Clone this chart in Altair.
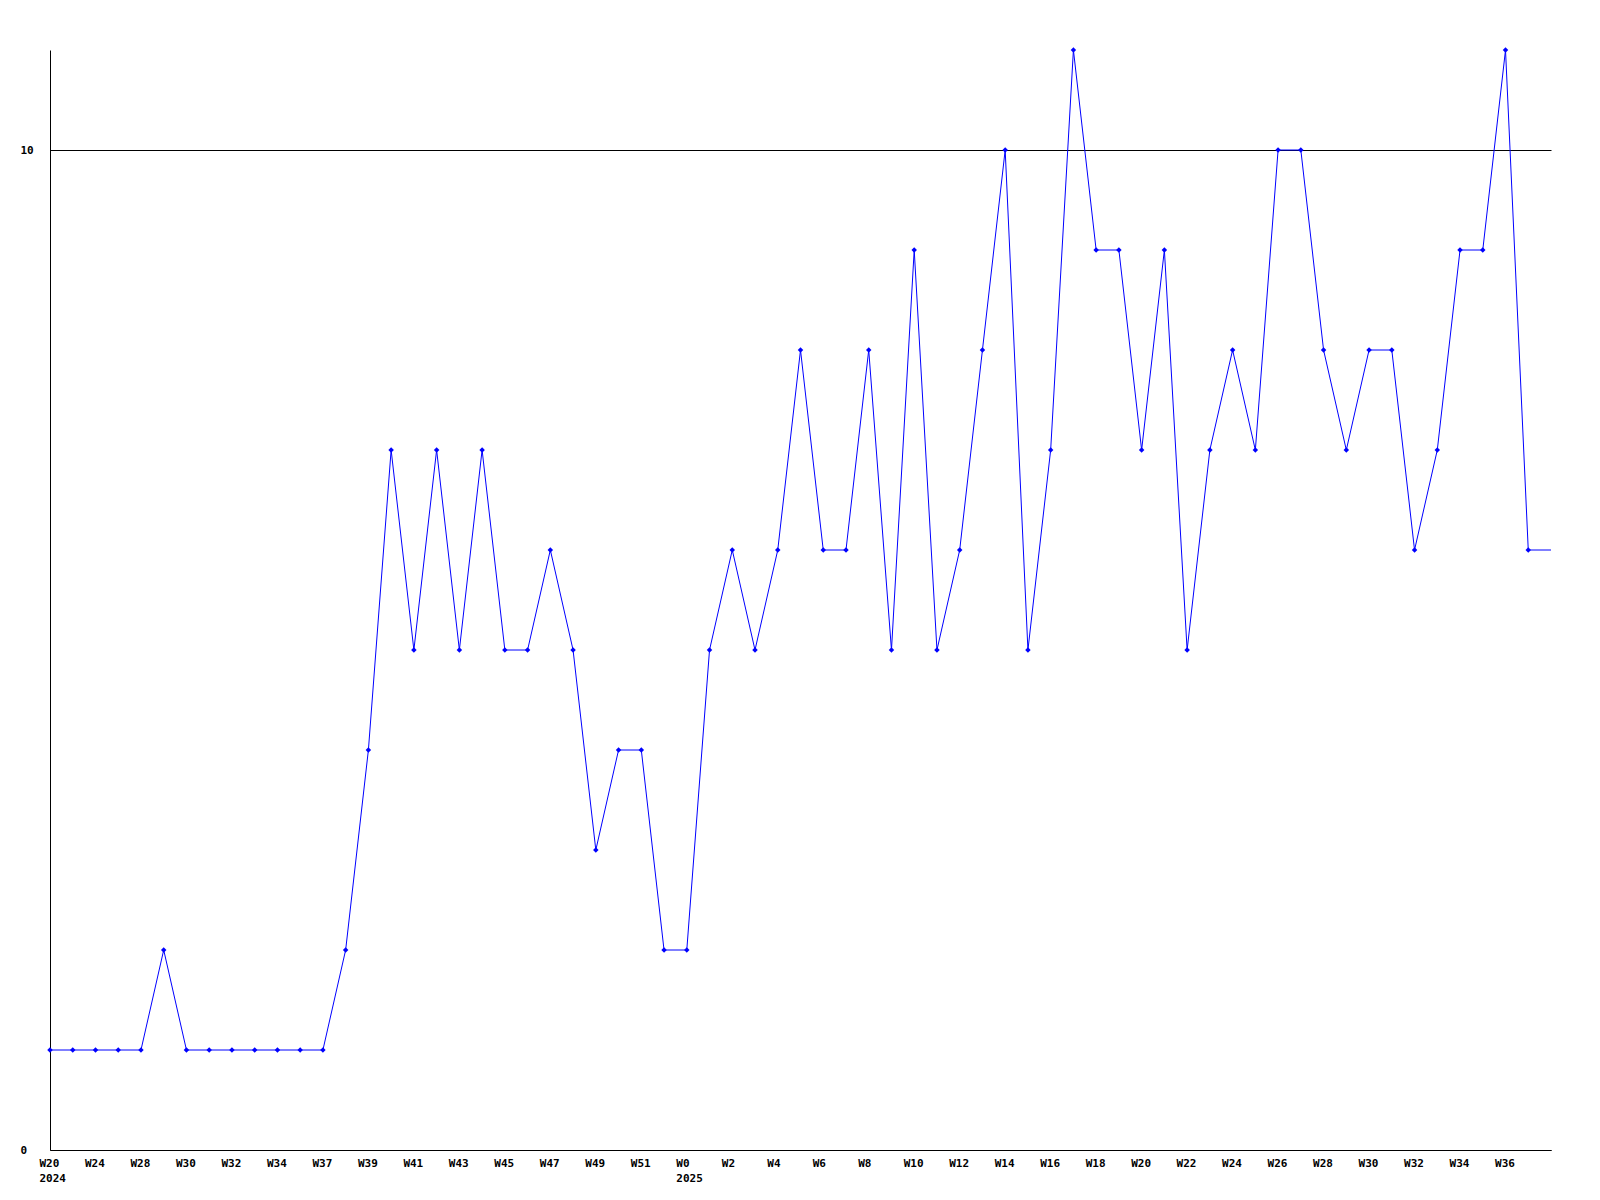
import json
import altair as alt
import pandas as pd

values = [1, 1, 1, 1, 1, 2, 1, 1, 1, 1, 1, 1, 1, 2, 4, 7, 5, 7, 5, 7,
          5, 5, 6, 5, 3, 4, 4, 2, 2, 5, 6, 5, 6, 8, 6, 6, 8, 5, 9, 5,
          6, 8, 10, 5, 7, 11, 9, 9, 7, 9, 5, 7, 8, 7, 10, 10, 8, 7, 8, 8,
          6, 7, 9, 9, 11, 6]
tick_labels = ["W20", "W24", "W28", "W30", "W32", "W34", "W37", "W39", "W41",
               "W43", "W45", "W47", "W49", "W51", "W0", "W2", "W4", "W6", "W8",
               "W10", "W12", "W14", "W16", "W18", "W20", "W22", "W24", "W26",
               "W28", "W30", "W32", "W34", "W36"]
year_labels = {0: "2024", 14: "2025"}

n = len(values)
# line continues flat to the right edge of the plot
line_df = pd.DataFrame({"i": list(range(n + 1)), "v": values + [values[-1]]})
pt_df = pd.DataFrame({"i": list(range(n)), "v": values})

lab_lines = [[t, year_labels[k]] if k in year_labels else [t] for k, t in enumerate(tick_labels)]
label_expr = json.dumps(lab_lines) + "[datum.value / 2]"

font = "DejaVu Sans Mono"
blue = "#0000FF"

x = alt.X("i:Q", scale=alt.Scale(domain=[0, n], nice=False, zero=False),
          axis=alt.Axis(values=list(range(0, 2 * len(tick_labels), 2)), labelExpr=label_expr,
                        title=None, grid=False, ticks=False, domainColor="black",
                        labelFont=font, labelFontWeight="bold", labelFontSize=11,
                        labelColor="black", labelPadding=7, labelBaseline="top",
                        labelAlign="left", labelOffset=-11,
                        labelLineHeight=15, labelFlush=False, labelOverlap=False))
y = alt.Y("v:Q", scale=alt.Scale(domain=[0, 11], nice=False),
          axis=alt.Axis(values=[0, 10], format="d", title=None, grid=True, gridColor="black",
                        gridOpacity=1, ticks=False, domainColor="black",
                        labelFont=font, labelFontWeight="bold", labelFontSize=11,
                        labelColor="black", labelAlign="left", labelPadding=30))

line = alt.Chart(line_df).mark_line(color=blue, strokeWidth=1).encode(x=x, y=y)
pts = alt.Chart(pt_df).mark_point(shape="diamond", filled=True, color=blue, size=30,
                                  opacity=1).encode(x="i:Q", y="v:Q")

chart = (line + pts).properties(
    width=1501, height=1100,
    background="white",
    autosize=alt.AutoSizeParams(type="none"),
    padding={"left": 42, "top": 42, "right": 40, "bottom": 60},
).configure_view(stroke=None)

chart.save("out.html", embed_options={"renderer": "svg", "actions": False})
